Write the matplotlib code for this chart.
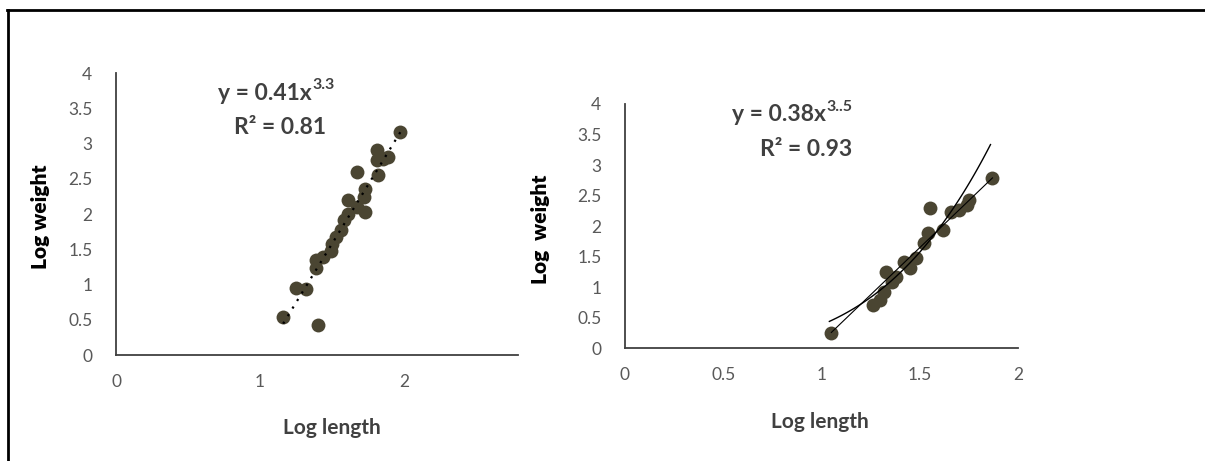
import numpy as np
import matplotlib
matplotlib.use("Agg")
import matplotlib.pyplot as plt
from matplotlib.lines import Line2D

# ---- data -------------------------------------------------------------
left_length = [1.16, 1.40, 1.25, 1.32, 1.39, 1.39, 1.44, 1.49, 1.50, 1.53,
               1.56, 1.58, 1.61, 1.61, 1.67, 1.72, 1.73, 1.73, 1.67, 1.82,
               1.81, 1.81, 1.89, 1.85, 1.97]
left_weight = [0.54, 0.43, 0.95, 0.94, 1.23, 1.35, 1.39, 1.47, 1.58, 1.68,
               1.77, 1.91, 2.00, 2.20, 2.10, 2.24, 2.36, 2.03, 2.60, 2.55,
               2.77, 2.91, 2.81, 2.78, 3.17]

right_length = [1.05, 1.26, 1.30, 1.32, 1.33, 1.36, 1.38, 1.42, 1.45, 1.48,
                1.52, 1.54, 1.55, 1.62, 1.66, 1.70, 1.75, 1.74, 1.87]
right_weight = [0.25, 0.70, 0.79, 0.92, 1.25, 1.09, 1.17, 1.41, 1.31, 1.47,
                1.72, 1.88, 2.29, 1.93, 2.23, 2.26, 2.43, 2.35, 2.78]

# left regression line (slope, intercept, x range)
left_slope, left_intercept = 3.34, -3.43
left_fit_range = (1.16, 1.98)

# right: power trend y = a * x^b and a straight guide line
right_coef, right_exp = 0.38, 3.5
right_fit_range = (1.04, 1.86)
right_line_slope, right_line_intercept = 3.09, -2.99
right_line_range = (1.05, 1.87)

left_xticks = [0, 1, 2]
left_yticks = [0, 0.5, 1, 1.5, 2, 2.5, 3, 3.5, 4]
right_xticks = [0, 0.5, 1, 1.5, 2]
right_yticks = [0, 0.5, 1, 1.5, 2, 2.5, 3, 3.5, 4]

# ---- styling ----------------------------------------------------------
plt.rcParams["font.family"] = ["Lato", "DejaVu Sans"]
TICK_C = "#595959"
TEXT_C = "#404040"
SPINE_C = "#404040"
MARK_C = "#4a4532"
MARK_S = 100


def fmt(v):
    return f"{v:g}"


def style_axes(ax, xlim, xticks, yticks):
    ax.set_xlim(*xlim)
    ax.set_ylim(0, 4)
    for s in ("top", "right"):
        ax.spines[s].set_visible(False)
    for s in ("left", "bottom"):
        ax.spines[s].set_color(SPINE_C)
        ax.spines[s].set_linewidth(1.3)
    ax.set_xticks(xticks)
    ax.set_yticks(yticks)
    ax.set_xticklabels([fmt(v) for v in xticks])
    ax.set_yticklabels([fmt(v) for v in yticks])
    ax.tick_params(axis="both", length=0, labelsize=12.5, labelcolor=TICK_C)
    ax.tick_params(axis="y", pad=17)
    ax.tick_params(axis="x", pad=14)


def equation(ax, x, y, base, sup):
    ax.text(x, y, base, ha="right", va="center", fontsize=16.5,
            fontweight="bold", color=TEXT_C)
    ax.annotate(sup, xy=(x, y), xytext=(0.5, 5.5), textcoords="offset points",
                ha="left", va="center", fontsize=11.5, fontweight="bold",
                color=TEXT_C)


fig = plt.figure(figsize=(12.05, 4.61), dpi=100)

# frame lines along the top and left edges
fig.add_artist(Line2D([7.5 / 1205, 1.0], [1 - 10.5 / 461] * 2,
                      transform=fig.transFigure, color="black", lw=2))
fig.add_artist(Line2D([8 / 1205] * 2, [0, 1 - 10.5 / 461],
                      transform=fig.transFigure, color="black", lw=2))

# ---- left panel -------------------------------------------------------
ax1 = fig.add_axes([116 / 1205, 1 - 355 / 461, 402 / 1205, 282 / 461])
style_axes(ax1, (0, 2.79), left_xticks, left_yticks)
ax1.scatter(left_length, left_weight, s=MARK_S, color=MARK_C, zorder=2,
            linewidths=0)
lx = np.array(left_fit_range)
ax1.plot(lx, left_slope * lx + left_intercept, color="black", lw=1.6,
         linestyle=(0, (1, 3)), zorder=3)
equation(ax1, 1.361, 3.716, "y = 0.41x", "3.3")
ax1.text(1.14, 3.22, "R² = 0.81", ha="center", va="center", fontsize=16.5,
         fontweight="bold", color=TEXT_C)
ax1.set_xlabel("Log length", fontsize=15, fontweight="bold", color=TEXT_C)
ax1.xaxis.label.set_va("center")
ax1.xaxis.set_label_coords(0.537, -0.259)
ax1.set_ylabel("Log weight", fontsize=15, fontweight="heavy", color="black")
ax1.yaxis.label.set_va("center")
ax1.yaxis.set_label_coords(-0.187, 0.489)

# ---- right panel ------------------------------------------------------
ax2 = fig.add_axes([625 / 1205, 1 - 348 / 461, 393 / 1205, 244 / 461])
style_axes(ax2, (0, 2), right_xticks, right_yticks)
ax2.scatter(right_length, right_weight, s=MARK_S, color=MARK_C, zorder=2,
            linewidths=0)
cx = np.linspace(*right_fit_range, 100)
ax2.plot(cx, right_coef * cx ** right_exp, color="black", lw=1.0, zorder=3)
sx = np.array(right_line_range)
ax2.plot(sx, right_line_slope * sx + right_line_intercept, color="black",
         lw=0.8, zorder=3)
equation(ax2, 1.023, 3.82, "y = 0.38x", "3..5")
ax2.text(0.92, 3.25, "R² = 0.93", ha="center", va="center", fontsize=16.5,
         fontweight="bold", color=TEXT_C)
ax2.set_xlabel("Log length", fontsize=15, fontweight="bold", color=TEXT_C)
ax2.xaxis.label.set_va("center")
ax2.xaxis.set_label_coords(0.496, -0.303)
ax2.set_ylabel("Log  weight", fontsize=15, fontweight="heavy", color="black")
ax2.yaxis.label.set_va("center")
ax2.yaxis.set_label_coords(-0.216, 0.488)

fig.savefig("out.png", dpi=100, facecolor="white")
